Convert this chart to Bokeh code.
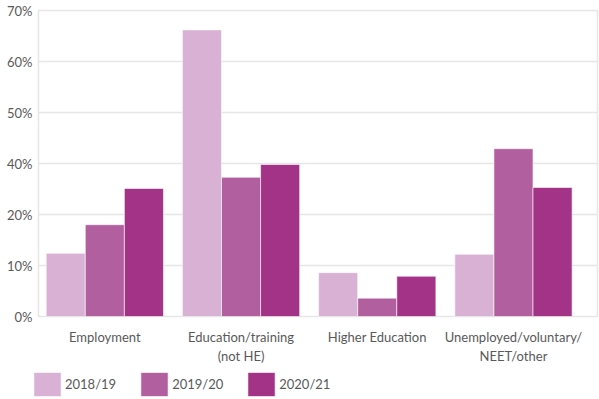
from bokeh.plotting import figure
from bokeh.models import ColumnDataSource, FixedTicker, Range1d, Legend, LegendItem
from bokeh.layouts import column
from bokeh.transform import dodge
from bokeh.embed import file_html
from bokeh.resources import INLINE

# ---- data (bar heights read against the gridlines; grid step = one label step) ----
categories = ["Employment", "Education/training\n(not HE)", "Higher Education",
              "Unemployed/voluntary/\nNEET/other"]
years = ["2018/19", "2019/20", "2020/21"]
v_2018_19 = [12.4, 56.2, 8.6, 12.2]
v_2019_20 = [18.0, 27.3, 3.6, 32.9]
v_2020_21 = [25.1, 29.8, 7.9, 25.3]
y_tick_values = [0, 10, 20, 30, 40, 50, 60]
y_tick_labels = ["0%", "10%", "20%", "40%", "50%", "60%", "70%"]

colors = ["#d8b1d4", "#b25fa0", "#a23387"]
FONT = "Lato"
TXT = "#595959"
GRID = "#e6e6e6"

pos = list(range(len(categories)))
src = ColumnDataSource(dict(x=pos, a=v_2018_19, b=v_2019_20, c=v_2020_21))

p = figure(width=599, height=369, output_backend="svg", toolbar_location=None,
           x_range=Range1d(-0.487, 3.617), y_range=Range1d(0, 60),
           min_border_left=38, min_border_right=2, min_border_top=10,
           min_border_bottom=53)

bw = 0.287
for col, off, c in zip(["a", "b", "c"], [-bw, 0, bw], colors):
    p.vbar(x=dodge("x", off), top=col, width=bw, source=src,
           fill_color=c, line_color="white", line_width=0.6)

# axes
p.yaxis.ticker = FixedTicker(ticks=y_tick_values)
p.yaxis.major_label_overrides = {t: l for t, l in zip(y_tick_values, y_tick_labels)}
p.xaxis.ticker = FixedTicker(ticks=pos)
p.xaxis.major_label_overrides = {i: c for i, c in zip(pos, categories)}
for ax in (p.xaxis, p.yaxis):
    ax.axis_line_color = None
    ax.major_tick_line_color = None
    ax.major_tick_out = 0
    ax.minor_tick_line_color = None
    ax.minor_tick_out = 0
    ax.major_label_text_font = FONT
    ax.major_label_text_font_size = "13px"
    ax.major_label_text_color = TXT
p.yaxis.major_label_standoff = 6
p.xaxis.major_label_standoff = 12

p.xgrid.grid_line_color = None
p.ygrid.ticker = FixedTicker(ticks=y_tick_values)
p.ygrid.grid_line_color = GRID
p.ygrid.grid_line_width = 1.5
p.outline_line_color = GRID
p.outline_line_width = 1.5

# ---- legend strip ----
lf = figure(width=599, height=30, output_backend="svg", toolbar_location=None,
            x_range=Range1d(0, 1), y_range=Range1d(0, 1),
            x_axis_type=None, y_axis_type=None,
            min_border=0, outline_line_color=None)
lf.grid.visible = False
legend_loc = (-9, 0)
if hasattr(lf, "frame_align"):
    lf.frame_align = False
    p.frame_align = False
    legend_loc = (30, 0)
lsrc = ColumnDataSource(dict(x=[-10], top=[0]))
lrs = [lf.vbar(x="x", top="top", width=0.1, source=lsrc, fill_color=c,
               line_color="white", line_width=0.6) for c in colors]
legend = Legend(items=[LegendItem(label=y, renderers=[r]) for y, r in zip(years, lrs)],
                orientation="horizontal", location=legend_loc,
                glyph_width=34, glyph_height=30, label_height=30,
                label_standoff=1, spacing=21, padding=0, margin=0,
                border_line_color=None, background_fill_alpha=0,
                label_text_font=FONT, label_text_font_size="13px",
                label_text_color=TXT)
lf.add_layout(legend, "center")

layout = column(p, lf, spacing=0)
open("out.html", "w").write(file_html(layout, INLINE))
